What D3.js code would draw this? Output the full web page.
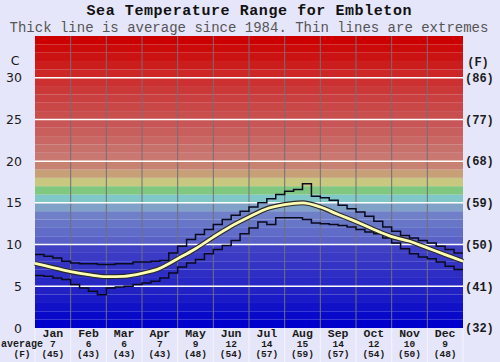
<!DOCTYPE html>
<html>
<head>
<meta charset="utf-8">
<script src="https://cdn.jsdelivr.net/npm/d3@7"></script>
<style>
body { margin: 0; background: #e6e6fa; }
svg { display: block; }
</style>
</head>
<body>
<svg id="chart" width="500" height="362"></svg>
<script>
let months = ["Jan","Feb","Mar","Apr","May","Jun","Jul","Aug","Sep","Oct","Nov","Dec"];
let monthAvgC = [7, 6, 6, 7, 9, 12, 14, 15, 14, 12, 10, 9];
let monthAvgF = [45, 43, 43, 43, 48, 54, 57, 59, 57, 54, 50, 48];
let celsiusTicks = [0, 5, 10, 15, 20, 25, 30];
let fahrenheitTicks = [32, 41, 50, 59, 68, 77, 86];

// average, 25 points, twice a month from 1 Jan to 31 Dec
let averageTemp = [7.75, 7.25, 6.75, 6.4, 6.15, 6.2, 6.55, 7.15, 8.3, 9.5, 10.9, 12.2, 13.3,
                   14.3, 14.8, 15.0, 14.5, 13.6, 12.75, 11.8, 10.95, 10.4, 9.6, 8.8, 8.0];
// extremes, 48 steps through the year
let maxTemp = [8.8, 8.6, 8.4, 8.0, 7.8, 7.7, 7.7, 7.6, 7.6, 7.7, 7.7, 7.9,
               7.9, 8.0, 8.1, 9.0, 9.8, 10.6, 11.2, 11.8, 12.4, 13.0, 13.5, 14.0,
               14.5, 15.0, 15.5, 16.0, 16.4, 16.6, 17.3, 15.8, 15.6, 15.3, 14.7, 14.3,
               13.9, 13.4, 12.8, 12.1, 11.6, 11.1, 10.8, 10.5, 10.2, 9.8, 9.4, 9.0];
let minTemp = [6.3, 6.2, 6.0, 5.8, 5.2, 4.8, 4.4, 4.0, 4.8, 4.9, 5.0, 5.2,
               5.4, 5.6, 6.0, 6.6, 7.3, 7.8, 8.2, 8.9, 9.4, 9.9, 10.5, 11.3,
               12.0, 12.7, 12.4, 13.2, 13.2, 13.2, 13.0, 12.6, 12.5, 12.4, 12.3, 12.1,
               11.8, 11.5, 11.3, 10.8, 10.2, 9.5, 8.9, 8.5, 8.3, 7.9, 7.4, 7.0];

let svg = d3.select("#chart");
let plotLeft = 35, plotRight = 463, plotTop = 36, plotBottom = 328;

let x = d3.scaleLinear().domain([0, 365]).range([plotLeft, plotRight]);
let xm = d3.scaleLinear().domain([0, 12]).range([plotLeft, plotRight]);
let y = d3.scaleLinear().domain([0, 35]).range([plotBottom, plotTop]);
let yF = d3.scaleLinear().domain([32, 32 + 35 * 1.8]).range([plotBottom, plotTop]);
let xb = d3.scaleBand().domain(months).range([plotLeft, plotRight]);

// colour bands, one per degree
let bandColor = d3.scaleLinear()
    .domain([0, 4, 9, 10, 13, 14, 15, 16, 17, 18, 19, 20, 24, 29, 34])
    .range(["#0000cc", "#2222c4", "#4040c4", "#5a62c8", "#6f80c8", "#80a2c8", "#80c8c8", "#80c880",
            "#c8c880", "#c8a078", "#c88272", "#c87870", "#c85656", "#cc3030", "#cc0000"]);

svg.append("g").selectAll("rect")
    .data(d3.range(0, 35))
    .join("rect")
    .attr("x", plotLeft)
    .attr("width", plotRight - plotLeft)
    .attr("y", d => y(d + 1))
    .attr("height", d => y(d) - y(d + 1))
    .attr("fill", d => bandColor(d));

// month separators
svg.append("g").selectAll("line")
    .data(d3.range(1, 12))
    .join("line")
    .attr("x1", d => xm(d)).attr("x2", d => xm(d))
    .attr("y1", plotTop).attr("y2", plotBottom)
    .attr("stroke", "#70707a")
    .attr("stroke-width", 1);
svg.append("g").selectAll("line")
    .data(d3.range(0, 13))
    .join("line")
    .attr("x1", d => xm(d)).attr("x2", d => xm(d))
    .attr("y1", plotBottom).attr("y2", 362)
    .attr("stroke", "#f4f4ff")
    .attr("stroke-width", 1);

// horizontal grid
svg.append("g").selectAll("line")
    .data(celsiusTicks.filter(d => d > 0))
    .join("line")
    .attr("x1", plotLeft).attr("x2", plotRight)
    .attr("y1", d => y(d)).attr("y2", d => y(d))
    .attr("stroke", "#ffffff")
    .attr("stroke-width", 1.5);

// extremes as steps
let stepLine = d3.line()
    .x(d => x(d.day))
    .y(d => y(d.t))
    .curve(d3.curveStepAfter);
let toSteps = arr => arr.map((t, i) => ({day: i * 365 / arr.length, t: t}))
    .concat([{day: 365, t: arr[arr.length - 1]}]);

[maxTemp, minTemp].forEach(arr => {
    svg.append("path")
        .datum(toSteps(arr))
        .attr("d", stepLine)
        .attr("fill", "none")
        .attr("stroke", "#0a0a1e")
        .attr("stroke-width", 1.5);
});

// average
let avgLine = d3.line()
    .x(d => x(d.day))
    .y(d => y(d.t))
    .curve(d3.curveMonotoneX);
let avgData = averageTemp.map((t, i) => ({day: i * 365 / (averageTemp.length - 1), t: t}));
svg.append("path").datum(avgData).attr("d", avgLine)
    .attr("fill", "none").attr("stroke", "#2a2a2a").attr("stroke-width", 5);
svg.append("path").datum(avgData).attr("d", avgLine)
    .attr("fill", "none").attr("stroke", "#ffffb4").attr("stroke-width", 2.8);

// axes
let leftAxis = svg.append("g")
    .attr("transform", "translate(" + plotLeft + ",0)")
    .call(d3.axisLeft(y).tickValues(celsiusTicks).tickSize(0).tickPadding(13));
leftAxis.select(".domain").remove();
leftAxis.selectAll("text")
    .attr("font-family", "DejaVu Sans")
    .attr("font-size", 12.5)
    .attr("fill", "#1a1a1a");

let rightAxis = svg.append("g")
    .attr("transform", "translate(" + plotRight + ",0)")
    .call(d3.axisRight(yF).tickValues(fahrenheitTicks).tickSize(0).tickPadding(2)
        .tickFormat(d => "(" + d + ")"));
rightAxis.select(".domain").remove();
rightAxis.selectAll("text")
    .attr("font-family", "Liberation Mono")
    .attr("font-weight", "bold")
    .attr("font-size", 12)
    .attr("fill", "#1a1a1a");

svg.append("text").text("C")
    .attr("x", 15).attr("y", 61).attr("dy", "0.35em")
    .attr("text-anchor", "middle")
    .attr("font-family", "DejaVu Sans").attr("font-size", 12.5).attr("fill", "#1a1a1a");
svg.append("text").text("(F)")
    .attr("x", 478).attr("y", 62).attr("dy", "0.35em")
    .attr("text-anchor", "middle")
    .attr("font-family", "Liberation Mono").attr("font-weight", "bold")
    .attr("font-size", 12).attr("fill", "#1a1a1a");

let bottomAxis = svg.append("g")
    .attr("transform", "translate(0," + plotBottom + ")")
    .call(d3.axisBottom(xb).tickSize(0).tickPadding(0));
bottomAxis.select(".domain").remove();
bottomAxis.selectAll("text")
    .attr("dy", null)
    .attr("y", 8.5)
    .attr("font-family", "Liberation Mono")
    .attr("font-weight", "bold")
    .attr("font-size", 11.5)
    .attr("fill", "#1a1a1a");

let small = sel => sel.attr("font-family", "Liberation Mono")
    .attr("font-weight", "bold")
    .attr("font-size", 9.5)
    .attr("fill", "#1a1a1a")
    .attr("text-anchor", "middle");

svg.append("g").selectAll("text")
    .data(monthAvgC)
    .join("text")
    .attr("x", (d, i) => xb(months[i]) + xb.bandwidth() / 2)
    .attr("y", 346.5)
    .text(d => d)
    .call(small);
svg.append("g").selectAll("text")
    .data(monthAvgF)
    .join("text")
    .attr("x", (d, i) => xb(months[i]) + xb.bandwidth() / 2)
    .attr("y", 356.5)
    .text(d => "(" + d + ")")
    .call(small);
svg.append("text").text("average").attr("x", 22).attr("y", 346.5)
    .call(small).attr("font-size", 10);
svg.append("text").text("(F)").attr("x", 22).attr("y", 356.5).call(small);

// titles
svg.append("text")
    .text("Sea Temperature Range for Embleton")
    .attr("x", 249).attr("y", 15)
    .attr("text-anchor", "middle")
    .attr("font-family", "Liberation Mono")
    .attr("font-weight", "bold")
    .attr("font-size", 15)
    .attr("textLength", 325)
    .attr("fill", "#111");
svg.append("text")
    .text("Thick line is average since 1984. Thin lines are extremes")
    .attr("x", 249).attr("y", 31.5)
    .attr("text-anchor", "middle")
    .attr("font-family", "Liberation Mono")
    .attr("font-size", 14)
    .attr("fill", "#555");
</script>
</body>
</html>
